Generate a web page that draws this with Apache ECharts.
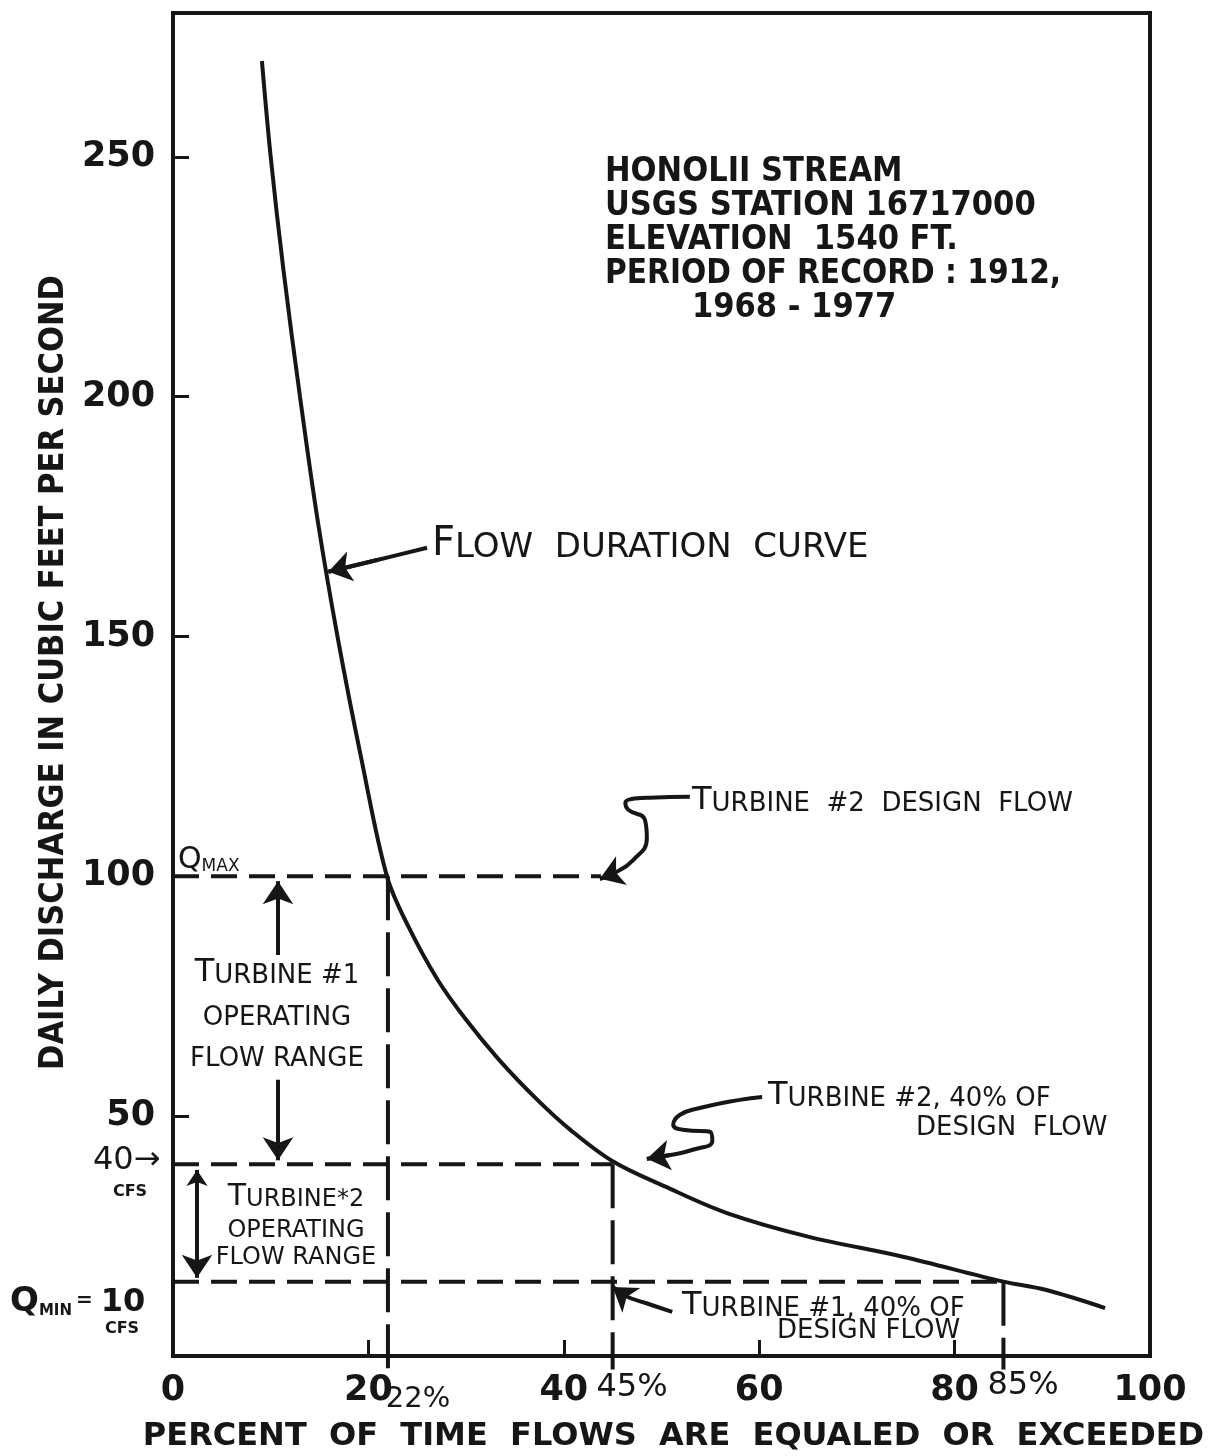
<!DOCTYPE html>
<html><head><meta charset="utf-8">
<script src="https://cdn.jsdelivr.net/npm/echarts@6/dist/echarts.min.js"></script>
<style>html,body{margin:0;padding:0;background:#fff}#c{width:1208px;height:1456px}</style>
</head><body><div id="c"></div>
<script>
// ---------- data ----------
const curvePct = [9.1, 10.0, 11.3, 13.0, 14.8, 16.9, 19.3, 21.9, 24.1, 27.1, 30.0, 33.4, 37.3, 40.7, 45.0, 50.4, 56.7, 65.0, 74.7, 85.0, 89.3, 95.4];
const curveCfs = [270, 250, 226.5, 200, 174.3, 149.3, 124.3, 100, 89.5, 78.4, 70.1, 61.7, 53.4, 47.1, 40.6, 35.3, 29.8, 24.9, 20.7, 15.5, 13.8, 10.0];
const xTicks = [0, 20, 40, 60, 80, 100];
const yTicks = [50, 100, 150, 200, 250];
const qMaxCfs = 100, qMaxPct = 22, qMaxLineEndPct = 43.8;
const t2MinCfs = 40, t2MinPct = 45;
const qMinCfs = 15.5, qMinPct = 85;
const belowAxis = -2.8;
// annotation arrows (data coordinates: percent, cfs)
const flowArrow = [[26.0, 168.5], [21.0, 166.0], [15.9, 163.5]];
const designArrow = [[52.9, 116.6], [48.8, 116.4], [46.3, 115.3], [46.6, 113.9], [48.3, 111.8], [48.5, 108.0], [47.1, 103.4], [45.0, 100.5], [43.7, 99.5]];
const t2PctArrow = [[60.3, 54.0], [58.0, 53.4], [53.9, 51.7], [51.9, 50.3], [51.2, 48.2], [52.4, 47.1], [55.0, 46.7], [55.2, 44.8], [53.2, 43.0], [50.9, 41.9], [48.5, 41.1]];
const t1PctArrow = [[51.1, 9.2], [48.3, 11.1], [46.3, 12.5], [45.0, 14.4]];
const t1RangeUp = [[10.75, 83.6], [10.75, 99.0]];
const t1RangeDown = [[10.75, 57.6], [10.75, 40.8]];
const t2Range = [[2.46, 38.8], [2.46, 16.3]];

// ---------- styles ----------
const INK = '#161616';
const BOLD = "'DejaVu Sans Condensed','DejaVu Sans',sans-serif";
const WIDE = "'DejaVu Sans',sans-serif";
const HAND = "'DejaVu Sans',sans-serif";

const chart = echarts.init(document.getElementById('c'), null, {renderer: 'canvas'});

function dashed(points, dash) {
  return {type: 'line', data: points, symbol: 'none', clip: false, silent: true, z: 2,
    lineStyle: {color: INK, width: 4, type: dash}};
}
function shaft(points, smooth) {
  return {type: 'line', data: points, symbol: 'none', clip: false, silent: true, smooth: smooth, z: 4,
    lineStyle: {color: INK, width: 4}};
}
function head(a, b, both) {
  return {type: 'lines', coordinateSystem: 'cartesian2d', silent: true, z: 5,
    symbol: both ? ['arrow', 'arrow'] : ['none', 'arrow'], symbolSize: [16, 23],
    lineStyle: {color: INK, width: 4, opacity: 1, curveness: 0},
    data: [{coords: [a, b]}]};
}
function lastTwo(arr) { return [arr[arr.length - 2], arr[arr.length - 1]]; }

const series = [
  {type: 'line', data: curvePct.map((x, i) => [x, curveCfs[i]]), symbol: 'none', smooth: 0.35, z: 3, silent: true,
    lineStyle: {color: INK, width: 4}},
  dashed([[0, qMaxCfs], [qMaxLineEndPct, qMaxCfs]], [26, 12]),
  dashed([[qMaxPct, qMaxCfs], [qMaxPct, belowAxis]], [44, 12]),
  dashed([[0, t2MinCfs], [t2MinPct, t2MinCfs]], [26, 12]),
  dashed([[t2MinPct, t2MinCfs], [t2MinPct, belowAxis]], [44, 12]),
  dashed([[0, qMinCfs], [qMinPct, qMinCfs]], [26, 12]),
  dashed([[qMinPct, qMinCfs], [qMinPct, belowAxis]], [44, 12]),
  shaft(flowArrow, 0.4), head(...lastTwo(flowArrow)),
  shaft(designArrow, 0.5), head(...lastTwo(designArrow)),
  shaft(t2PctArrow, 0.5), head(...lastTwo(t2PctArrow)),
  shaft(t1PctArrow, 0.4), head(...lastTwo(t1PctArrow)),
  head(t1RangeUp[0], t1RangeUp[1]),
  head(t1RangeDown[0], t1RangeDown[1]),
  head(t2Range[0], t2Range[1], true)
];

function T(x, y, text, o) {
  return {type: 'text', x: x, y: y, z: 20, silent: true,
    style: Object.assign({text: text, fill: INK, fontFamily: HAND, fontSize: 26, align: 'left', verticalAlign: 'middle'}, o || {})};
}
const handRich = {
  b: {fontSize: 32, fontFamily: HAND, verticalAlign: 'bottom', lineHeight: 34},
  s: {fontSize: 26, fontFamily: HAND, verticalAlign: 'bottom', lineHeight: 34}
};
const blockStyle = {fontFamily: BOLD, fontWeight: 'bold', fontSize: 34};

const graphics = [
  // station block
  T(605, 172, 'HONOLII STREAM', blockStyle),
  T(605, 206, 'USGS STATION 16717000', blockStyle),
  T(605, 240, 'ELEVATION  1540 FT.', blockStyle),
  T(605, 274, 'PERIOD OF RECORD : 1912,', Object.assign({}, blockStyle, {fontSize: 33})),
  T(692, 308, '1968 - 1977', blockStyle),
  // flow duration curve
  T(432, 545, '{b|F}{s|LOW  DURATION  CURVE}', {rich: {b: {fontSize: 40, fontFamily: HAND, verticalAlign: 'bottom'}, s: {fontSize: 34, fontFamily: HAND, verticalAlign: 'bottom'}}}),
  // turbine 2 design flow
  T(692, 800, '{b|T}{s|URBINE  #2  DESIGN  FLOW}', {rich: handRich}),
  // Qmax
  T(178, 860, '{q|Q}{m|MAX}', {rich: {q: {fontSize: 30, fontFamily: HAND, verticalAlign: 'bottom'}, m: {fontSize: 17, fontFamily: HAND, verticalAlign: 'bottom'}}}),
  // turbine 1 operating range
  T(277, 972, '{b|T}{s|URBINE #1}', {align: 'center', rich: handRich}),
  T(277, 1018, 'OPERATING', {align: 'center', fontSize: 26}),
  T(277, 1059, 'FLOW RANGE', {align: 'center', fontSize: 26}),
  // 40 cfs
  T(93, 1161, '40→', {fontSize: 32}),
  T(130, 1192, 'CFS', {align: 'center', fontSize: 16, fontWeight: 'bold'}),
  // turbine 2 operating range
  T(296, 1197, '{b|T}{s|URBINE*2}', {align: 'center', rich: {b: {fontSize: 30, fontFamily: HAND, verticalAlign: 'bottom'}, s: {fontSize: 24, fontFamily: HAND, verticalAlign: 'bottom'}}}),
  T(296, 1231, 'OPERATING', {align: 'center', fontSize: 24}),
  T(296, 1258, 'FLOW RANGE', {align: 'center', fontSize: 24}),
  // Qmin
  T(10, 1302, '{q|Q}{m|MIN}{e|=}{n|10}', {rich: {
    q: {fontSize: 34, fontFamily: HAND, fontWeight: 'bold', verticalAlign: 'bottom'},
    m: {fontSize: 15, fontFamily: HAND, fontWeight: 'bold', verticalAlign: 'bottom'},
    e: {fontSize: 20, fontFamily: HAND, fontWeight: 'bold', verticalAlign: 'bottom', padding: [0, 8, 8, 4]},
    n: {fontSize: 32, fontFamily: HAND, fontWeight: 'bold', verticalAlign: 'bottom'}}}),
  T(122, 1329, 'CFS', {align: 'center', fontSize: 16, fontWeight: 'bold'}),
  // turbine 2, 40%
  T(768, 1095, '{b|T}{s|URBINE #2, 40% OF}', {rich: handRich}),
  T(916, 1128, 'DESIGN  FLOW', {fontSize: 26}),
  // turbine 1, 40%
  T(682, 1305, '{b|T}{s|URBINE #1, 40% OF}', {rich: handRich}),
  T(777, 1331, 'DESIGN FLOW', {fontSize: 26}),
  // percent marks on x axis
  T(418, 1399, '22%', {align: 'center', fontSize: 29}),
  T(632, 1388, '45%', {align: 'center', fontSize: 32}),
  T(1023, 1386, '85%', {align: 'center', fontSize: 32})
];

chart.setOption({
  animation: false,
  backgroundColor: '#ffffff',
  grid: {left: 173, right: 58, top: 13, bottom: 100, containLabel: false, outerBoundsMode: 'none',
    show: true, borderColor: INK, borderWidth: 4, backgroundColor: 'transparent'},
  xAxis: {
    type: 'value', min: 0, max: 100, interval: 20,
    axisLine: {show: true, onZero: false, lineStyle: {color: INK, width: 4}},
    axisTick: {show: true, inside: true, length: 16, lineStyle: {color: INK, width: 3}},
    splitLine: {show: false},
    axisLabel: {color: INK, fontFamily: WIDE, fontWeight: 'bold', fontSize: 35, margin: 17,
      formatter: v => xTicks.includes(v) ? String(v) : ''},
    name: 'PERCENT  OF  TIME  FLOWS  ARE  EQUALED  OR  EXCEEDED',
    nameLocation: 'middle', nameGap: 65,
    nameTextStyle: {color: INK, fontFamily: WIDE, fontWeight: 'bold', fontSize: 32, padding: [0, 0, 0, 24]}
  },
  yAxis: {
    type: 'value', min: 0, max: 280, interval: 50,
    axisLine: {show: true, onZero: false, lineStyle: {color: INK, width: 4}},
    axisTick: {show: true, inside: true, length: 16, lineStyle: {color: INK, width: 3}},
    splitLine: {show: false},
    axisLabel: {color: INK, fontFamily: WIDE, fontWeight: 'bold', fontSize: 35, margin: 18,
      formatter: v => yTicks.includes(v) ? String(v) : ''},
    name: 'DAILY DISCHARGE IN CUBIC FEET PER SECOND',
    nameLocation: 'middle', nameGap: 87, nameRotate: 90,
    nameTextStyle: {color: INK, fontFamily: BOLD, fontWeight: 'bold', fontSize: 34, padding: [0, 0, 0, 24]}
  },
  series: series,
  graphic: graphics
});
</script>
</body></html>
